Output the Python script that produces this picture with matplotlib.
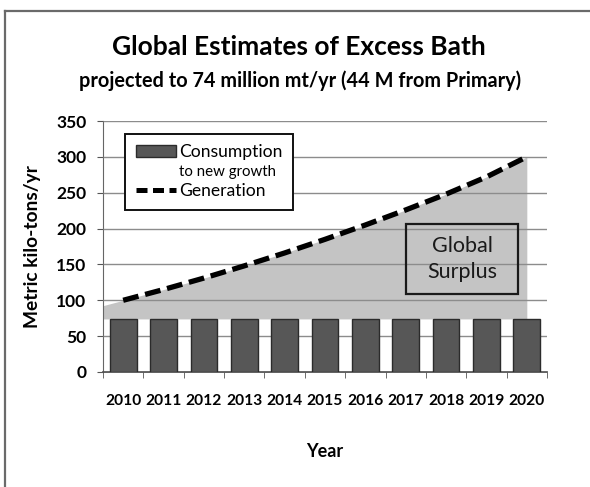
import numpy as np
import matplotlib.pyplot as plt
from matplotlib.lines import Line2D
from matplotlib.patches import Patch, Rectangle

plt.rcParams['font.family'] = ['Lato', 'DejaVu Sans']

years = ['2010', '2011', '2012', '2013', '2014', '2015',
         '2016', '2017', '2018', '2019', '2020']
consumption = [74, 74, 74, 74, 74, 74, 74, 74, 74, 74, 74]
generation = [100, 115, 131, 148, 166, 185, 205, 226, 248, 272, 300]
yticks = [0, 50, 100, 150, 200, 250, 300, 350]

W, H = 590, 487
fig = plt.figure(figsize=(W / 100, H / 100), dpi=100)

# slide frame
fig.add_artist(Line2D([5 / W, 5 / W], [0, 1 - 11 / H], color='#6a6a6a', lw=1.6))
fig.add_artist(Line2D([5 / W, 1], [1 - 11 / H, 1 - 11 / H], color='#6a6a6a', lw=1.6))

ax = fig.add_axes([103 / W, 1 - 372 / H, 444 / W, 251 / H])
x = np.arange(len(years))

# surplus band: generation above consumption, carried back to the axis edge
step = (generation[1] - generation[0]) / 2
x_fill = np.concatenate([[-0.5], x])
gen_fill = np.concatenate([[generation[0] - step], generation])
cons_fill = np.concatenate([[consumption[0]], consumption])
ax.fill_between(x_fill, cons_fill, gen_fill, color='#c4c4c4', lw=0, zorder=1)

bars = ax.bar(x, consumption, width=0.66, color='#575757', edgecolor='#2b2b2b',
              lw=1, zorder=3)
gen_line, = ax.plot(x, generation, color='black', lw=3.8, dashes=(3, 1.3),
                    zorder=4)

ax.set_xlim(-0.5, len(years) - 0.5)
ax.set_ylim(0, 350)
ax.set_yticks(yticks)
ax.set_axisbelow(False)
ax.yaxis.grid(True, color='#8c8c8c', lw=1)

ax.set_xticks(x)
ax.set_xticklabels(years, fontsize=11.2, fontweight='bold')
ax.set_xticks(np.arange(-0.5, len(years)), minor=True)
ax.tick_params(axis='x', which='major', length=0, pad=16)
ax.tick_params(axis='x', which='minor', length=4, color='#555555')
ax.tick_params(axis='y', length=4, color='#555555', pad=8)
for lab in ax.get_yticklabels():
    lab.set_fontsize(12.5)
    lab.set_fontweight('bold')

for s in ['top', 'right']:
    ax.spines[s].set_visible(False)
ax.spines['left'].set_color('#666666')
ax.spines['bottom'].set_color('#444444')
ax.spines['bottom'].set_linewidth(1.2)

ax.set_xlabel('Year', fontsize=13, fontweight='bold', labelpad=25)
ax.set_ylabel('Metric kilo-tons/yr', fontsize=13.8, fontweight='bold', labelpad=11)

# legend, with a blank middle row carrying the sub-caption
blank = Line2D([], [], alpha=0)
leg = ax.legend([Patch(facecolor='#575757', edgecolor='#2b2b2b'), blank,
                 Line2D([], [], color='black', lw=3.6, dashes=(2.2, 1.1))],
                ['Consumption', 'to new growth', 'Generation'],
                loc='upper left', bbox_to_anchor=(0.05, 0.95), borderaxespad=0,
                fontsize=12.6, handlelength=2.3, handletextpad=0.2,
                labelspacing=0.22, borderpad=0.6, fancybox=False,
                framealpha=1, edgecolor='#111111')
leg.get_frame().set_linewidth(1.4)
leg.get_texts()[1].set_fontsize(10.8)
leg.set_zorder(6)

# Global Surplus callout
ax.add_patch(Rectangle((0.682, 0.31), 0.253, 0.28, transform=ax.transAxes,
                       fill=False, edgecolor='#1a1a1a', lw=1.6, zorder=5))
ax.text(0.8085, 0.45, 'Global\nSurplus', transform=ax.transAxes, ha='center',
        va='center', fontsize=15.5, linespacing=1.35, color='#1a1a1a', zorder=5)

fig.text(299 / W, 1 - 47 / H, 'Global Estimates of Excess Bath', ha='center',
         va='center', fontsize=19, fontweight='bold')
fig.text(300 / W, 1 - 81 / H, 'projected to 74 million mt/yr (44 M from Primary)',
         ha='center', va='center', fontsize=14.3, fontweight='bold')

fig.savefig('out.png', dpi=100)
